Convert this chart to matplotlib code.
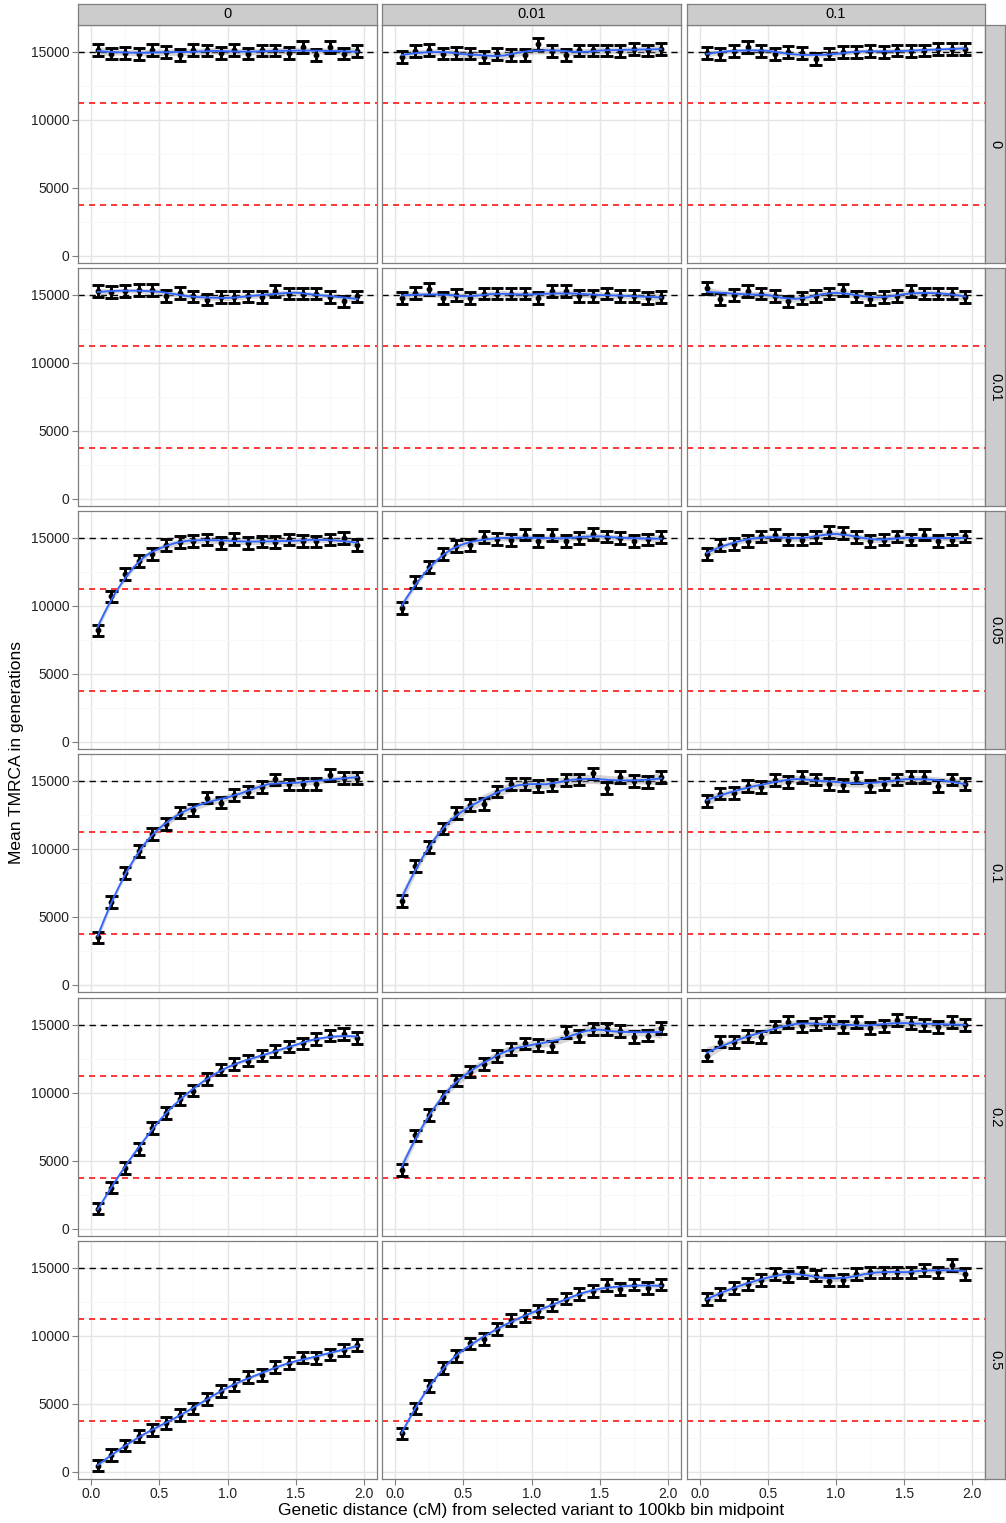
import numpy as np
import matplotlib
matplotlib.use("Agg")
import matplotlib.pyplot as plt

plt.rcParams['font.family'] = ['Liberation Sans', 'DejaVu Sans']

# facet levels
col_levels = ["0", "0.01", "0.1"]
row_levels = ["0", "0.01", "0.05", "0.1", "0.2", "0.5"]

# bin midpoints (cM)
dist = [0.05, 0.15, 0.25, 0.35, 0.45, 0.55, 0.65, 0.75, 0.85, 0.95,
        1.05, 1.15, 1.25, 1.35, 1.45, 1.55, 1.65, 1.75, 1.85, 1.95]

# mean TMRCA per bin, one list per facet (row, col)
tmrca_r0_c0 = [15170, 14880, 14950, 14830, 15170, 15000, 14760, 15170, 15120, 14950,
               15170, 14880, 15120, 15120, 14950, 15370, 14760, 15370, 14880, 15070]
tmrca_r0_c1 = [14630, 15070, 15170, 14880, 14930, 14880, 14630, 14830, 14760, 14760,
               15610, 15070, 14760, 15120, 15120, 15120, 15070, 15240, 15120, 15240]
tmrca_r0_c2 = [14930, 14830, 15070, 15370, 15070, 14830, 15000, 14930, 14510, 14880,
               15000, 15000, 15070, 15000, 15120, 15070, 15120, 15240, 15240, 15240]

tmrca_r1_c0 = [15270, 15200, 15270, 15390, 15390, 14950, 15150, 14900, 14660, 14850,
               14850, 14900, 14850, 15270, 15100, 15100, 15100, 14850, 14530, 14900]
tmrca_r1_c1 = [14780, 15150, 15440, 14780, 15020, 14780, 15100, 15100, 15100, 15100,
               14780, 15270, 15270, 14950, 14950, 15100, 14950, 14950, 14780, 14850]
tmrca_r1_c2 = [15510, 14710, 15020, 15270, 15100, 14950, 14530, 14780, 14950, 15100,
               15390, 14900, 14710, 14850, 14950, 15270, 15100, 15100, 15100, 14850]

tmrca_r2_c0 = [8200, 10700, 12350, 13300, 13800, 14500, 14700, 14800, 14900, 14650,
               14950, 14650, 14750, 14700, 14900, 14800, 14750, 14900, 15000, 14500]
tmrca_r2_c1 = [9850, 11750, 12850, 13800, 14400, 14500, 15050, 14950, 14850, 15250,
               14800, 15200, 14800, 15000, 15300, 15100, 15000, 14800, 14900, 15050]
tmrca_r2_c2 = [13820, 14510, 14580, 14760, 15120, 15250, 14880, 14880, 15050, 15440,
               15370, 15050, 14760, 14880, 15120, 14880, 15250, 14760, 14880, 15120]

tmrca_r3_c0 = [3500, 6120, 8220, 9860, 11080, 11820, 12680, 12850, 13780, 13410,
               13970, 14220, 14580, 15120, 14750, 14800, 14800, 15440, 15200, 15200]
tmrca_r3_c1 = [6200, 8740, 10130, 11500, 12650, 13210, 13290, 14220, 14760, 14800,
               14630, 14700, 15050, 15120, 15560, 14510, 15290, 15000, 14950, 15290]
tmrca_r3_c2 = [13530, 14070, 14140, 14630, 14560, 15050, 14950, 15290, 15120, 14800,
               14710, 15250, 14630, 14800, 15120, 15290, 15290, 14630, 15120, 14760]

tmrca_r4_c0 = [1500, 3040, 4480, 5900, 7420, 8520, 9570, 10180, 11040, 11720,
               12140, 12380, 12750, 13070, 13410, 13650, 13970, 14220, 14340, 14020]
tmrca_r4_c1 = [4360, 6880, 8400, 9690, 10920, 11580, 12140, 12700, 13240, 13650,
               13530, 13430, 14510, 14170, 14710, 14710, 14580, 14100, 14220, 14760]
tmrca_r4_c2 = [12750, 13780, 13730, 14170, 14100, 14900, 15200, 14900, 15070, 15240,
               14830, 15240, 14760, 14950, 15390, 15150, 15000, 14830, 15200, 15000]

tmrca_r5_c0 = [470, 1270, 1940, 2670, 3090, 3580, 4190, 4680, 5370, 5980,
               6400, 7010, 7130, 7700, 7990, 8430, 8380, 8630, 8970, 9340]
tmrca_r5_c1 = [2840, 4680, 6340, 7660, 8540, 9450, 9770, 10500, 11170, 11480,
               11820, 12260, 12750, 13070, 13290, 13730, 13480, 13780, 13530, 13780]
tmrca_r5_c2 = [12740, 13100, 13520, 13830, 14120, 14560, 14370, 14680, 14440, 14070,
               14120, 14560, 14680, 14680, 14680, 14680, 14850, 14680, 15240, 14560]

# half width of the 95% interval drawn as error bars
ci_half = 430

# reference levels
neutral_level = 15000
red_levels = [11250, 3750]

panels = [
    [tmrca_r0_c0, tmrca_r0_c1, tmrca_r0_c2],
    [tmrca_r1_c0, tmrca_r1_c1, tmrca_r1_c2],
    [tmrca_r2_c0, tmrca_r2_c1, tmrca_r2_c2],
    [tmrca_r3_c0, tmrca_r3_c1, tmrca_r3_c2],
    [tmrca_r4_c0, tmrca_r4_c1, tmrca_r4_c2],
    [tmrca_r5_c0, tmrca_r5_c1, tmrca_r5_c2],
]


def loess_fit(x, y, xs, span=0.5):
    """local quadratic loess with tricube weights, plus pointwise se"""
    x = np.asarray(x, float)
    y = np.asarray(y, float)
    n = len(x)
    q = int(np.floor(n * span))

    def weights_row(x0):
        d = np.abs(x - x0)
        h = np.sort(d)[q - 1] * 1.0001
        w = np.clip(1 - (d / h) ** 3, 0, None) ** 3
        X = np.column_stack([np.ones(n), x - x0, (x - x0) ** 2])
        XtW = X.T * w
        return np.linalg.solve(XtW @ X, XtW)[0]

    H = np.array([weights_row(x0) for x0 in x])
    resid = y - H @ y
    M = np.eye(n) - H
    delta1 = np.trace(M.T @ M)
    sigma = np.sqrt(np.sum(resid ** 2) / delta1)
    L = np.array([weights_row(x0) for x0 in xs])
    fit = L @ y
    se = sigma * np.sqrt(np.sum(L ** 2, axis=1))
    return fit, se


W, H = 1006, 1523
fig = plt.figure(figsize=(W / 100, H / 100), dpi=100)
fig.patch.set_facecolor("white")

col_x = [78, 382, 687]
col_w = [299, 299, 298]
row_y = [25, 268, 511, 754, 998, 1241]
row_h = 238
strip_top, strip_h = 4, 21
strip_right_x, strip_right_w = 985, 20

border = "#7f7f7f"
grid_major = "#e5e5e5"
grid_minor = "#f7f7f7"


def fbox(x, y, w, h):
    return [x / W, 1 - (y + h) / H, w / W, h / H]


xs = np.linspace(dist[0], dist[-1], 80)

for i, row in enumerate(panels):
    for j, vals in enumerate(row):
        ax = fig.add_axes(fbox(col_x[j], row_y[i], col_w[j], row_h))
        ax.set_xlim(-0.0945, 2.0945)
        ax.set_ylim(-515, 16985)
        ax.set_xticks([0, 0.5, 1.0, 1.5, 2.0])
        ax.set_xticks([0.25, 0.75, 1.25, 1.75], minor=True)
        ax.set_yticks([0, 5000, 10000, 15000])
        ax.set_yticks([2500, 7500, 12500], minor=True)
        ax.grid(True, which="major", color=grid_major, lw=1.0, zorder=0)
        ax.grid(True, which="minor", color=grid_minor, lw=0.6, zorder=0)
        ax.set_axisbelow(True)
        for sp in ax.spines.values():
            sp.set_color(border)
            sp.set_linewidth(0.9)
            sp.set_zorder(10)

        ax.tick_params(which="minor", length=0)
        ax.tick_params(which="major", length=4, width=0.8, color=border,
                       labelsize=10, labelcolor="#222222", pad=2)
        if j == 0:
            ax.set_yticklabels(["0", "5000", "10000", "15000"])
        else:
            ax.tick_params(axis="y", length=0, labelleft=False)
        if i == len(panels) - 1:
            ax.set_xticklabels(["0.0", "0.5", "1.0", "1.5", "2.0"])
        else:
            ax.tick_params(axis="x", length=0, labelbottom=False)

        # reference lines
        ax.axhline(neutral_level, color="black", lw=1.0, dashes=(4.5, 3.5), zorder=2)
        for lv in red_levels:
            ax.axhline(lv, color="#ff0000", lw=1.1, dashes=(4.0, 3.2), zorder=2)

        # smoother with se band
        fit, se = loess_fit(dist, vals, xs)
        ax.fill_between(xs, fit - 2.1 * se, fit + 2.1 * se, color="#999999",
                        alpha=0.4, lw=0, zorder=3)

        # error bars and means
        v = np.asarray(vals, float)
        ax.vlines(dist, v - ci_half, v + ci_half, color="black", lw=2.1, zorder=4)
        ax.hlines(v - ci_half, np.array(dist) - 0.045, np.array(dist) + 0.045,
                  color="black", lw=2.1, zorder=4)
        ax.hlines(v + ci_half, np.array(dist) - 0.045, np.array(dist) + 0.045,
                  color="black", lw=2.1, zorder=4)
        ax.plot(dist, v, "o", color="black", ms=3.2, zorder=5)

        ax.plot(xs, fit, color="#3366ff", lw=1.35, zorder=6)

# column strips
for j, lab in enumerate(col_levels):
    sax = fig.add_axes(fbox(col_x[j], strip_top, col_w[j], strip_h))
    sax.set_facecolor("#cccccc")
    sax.set_xticks([])
    sax.set_yticks([])
    for sp in sax.spines.values():
        sp.set_color(border)
        sp.set_linewidth(0.9)
    sax.text(0.5, 0.5, lab, ha="center", va="center", fontsize=10.5,
             transform=sax.transAxes)

# row strips
for i, lab in enumerate(row_levels):
    sax = fig.add_axes(fbox(strip_right_x, row_y[i], strip_right_w, row_h))
    sax.set_facecolor("#cccccc")
    sax.set_xticks([])
    sax.set_yticks([])
    for sp in sax.spines.values():
        sp.set_color(border)
        sp.set_linewidth(0.9)
    sax.text(0.5, 0.5, lab, ha="center", va="center", fontsize=10.5,
             rotation=-90, transform=sax.transAxes)

fig.text(17 / W, 1 - 752 / H, "Mean TMRCA in generations", rotation=90,
         ha="center", va="center", fontsize=12.5)
fig.text(531 / W, 1 - 1511 / H,
         "Genetic distance (cM) from selected variant to 100kb bin midpoint",
         ha="center", va="center", fontsize=12.5)

fig.savefig("out.png", dpi=100, facecolor="white")
